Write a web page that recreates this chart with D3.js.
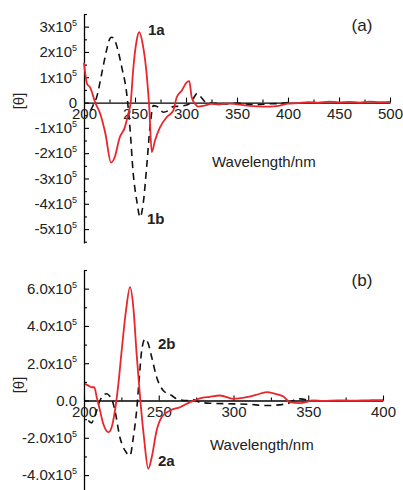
<!DOCTYPE html>
<html>
<head>
<meta charset="utf-8">
<script src="https://cdn.jsdelivr.net/npm/d3@7"></script>
<style>
  body { margin: 0; background: #fff; }
  svg { display: block; font-family: "Liberation Sans", Arial, sans-serif; }
</style>
</head>
<body>
<svg id="chart" width="403" height="490"></svg>
<script>
// panel (a) — values in units of 1e5
const wlA1 = [200,203,206,211,216,221,226.5,230,235,240,243,246,248,251.6,254.2,257.5,261.4,264,266.4,269.6,274.5,281,287.5,290.9,295.8,300.7,303.2,305.6,308.8,312,318,325,332,340,350,360,370,382,392,400,410,420,430,440,450,460,470,480,490,500]
const valA1 = [1.58,0.74,0.6,0,-0.45,-1.23,-2.37,-2.17,-1.38,-0.98,-0.51,0.08,1.19,2.45,2.78,2.32,1.13,-0.2,-1.96,-1.5,-0.98,-0.58,-0.32,0.21,0.47,0.8,0.85,0.21,-0.05,-0.16,-0.12,-0.05,-0.08,-0.03,-0.07,-0.12,-0.15,-0.16,-0.12,-0.04,-0.02,0.02,0,0.04,0.01,0.03,0,0.04,0.02,0.03]
const wlA2 = [206.5,209,212.4,217.3,222,225,227,229,232,237,241.9,245,248.3,251.7,255,258,261.4,264.7,268,272.8,277.7,282.6,287.5,295,302,307,311,315,320,330,340,350,360,370,380,390,400]
const valA2 = [-0.32,-0.1,0.21,1.13,2.05,2.5,2.58,2.55,2.25,1.4,0.34,-0.97,-2.82,-3.87,-4.53,-4.0,-2.56,-0.97,-0.12,-0.18,-0.38,-0.32,-0.16,-0.14,-0.08,0.15,0.36,0.2,0,-0.03,-0.05,-0.02,-0.06,-0.08,-0.05,-0.04,0]
const yTicksA = [-5,-4,-3,-2,-1,0,1,2,3]
const xTicksA = [200,250,300,350,400,450,500]

// panel (b)
const wlB1 = [200.7,202.9,205.1,206.9,208.5,210.7,212.9,216.3,218.5,220.7,223,225.2,228.1,230.8,233,235.2,237.5,240.1,243,245.3,248.6,252,257.5,264.2,270.9,277.6,284,291,299.9,308.8,315,322.2,328,333.3,337.8,344.5,353.4,360,370,380,390,400]
const valB1 = [0.89,0.8,0.71,0.71,0.18,-0.54,-1.25,-1.7,-1.43,-0.54,0.89,2.68,4.83,6.08,5.0,2.5,0.18,-1.97,-3.66,-3.04,-1.61,-0.89,-0.54,-0.36,-0.09,0.12,0.2,0.27,0.09,0.18,0.3,0.45,0.35,0.21,-0.09,-0.14,0,-0.02,0.01,-0.01,0.01,0.02]
const wlB2 = [202.9,205,207,210.7,213,215.2,217,218.5,220.7,224,227.4,230.8,233,235.2,237,238.6,240.8,243,245.3,248.6,253,258.7,262,268.7,273,277.6,285,300,310,322,335.6,340,344.5,350]
const valB2 = [-1.07,-1.2,-0.9,0,0.3,0.36,0.25,0.09,-0.54,-1.97,-2.68,-2.95,-1.97,-0.54,1.25,2.68,3.3,3.04,2.32,1.25,0.54,0.27,0.09,0,0.04,-0.1,-0.15,-0.18,-0.2,-0.27,-0.18,0,0.09,0]
const yTicksB = [-4,-2,0,2,4,6]
const xTicksB = [200,250,300,350,400]

const svg = d3.select("#chart")
const red = "#e8262b"

function drawPanel(opt) {
    const x = d3.scaleLinear().domain(opt.xDomain).range([84, opt.xRight])
    const y = d3.scaleLinear().domain(opt.yDomain).range([opt.yBottom, opt.yTop])
    const g = svg.append("g")

    // minor ticks
    g.append("g")
        .attr("transform", "translate(84,0)")
        .call(d3.axisLeft(y).tickValues(opt.yMinor).tickSize(-3).tickFormat(""))
        .call(a => a.select(".domain").remove())
    g.append("g")
        .attr("transform", `translate(0,${y(0)})`)
        .call(d3.axisBottom(x).tickValues(opt.xMinor).tickSize(-3).tickFormat(""))
        .call(a => a.select(".domain").remove())

    // y axis
    const yAx = g.append("g")
        .attr("transform", "translate(84,0)")
        .call(d3.axisLeft(y).tickValues(opt.yTicks).tickSize(-5).tickSizeOuter(0).tickPadding(7))
    yAx.selectAll("text").each(function (d) {
        const t = d3.select(this).text("")
        if (d === 0) { t.text(opt.zeroLabel); return }
        t.append("tspan").text(opt.fmt(d) + "x10")
        t.append("tspan").attr("font-size", 9).attr("dy", "-0.7em").text("5")
    })

    // x axis on zero line
    g.append("g")
        .attr("transform", `translate(0,${y(0)})`)
        .call(d3.axisBottom(x).tickValues(opt.xTicks).tickSize(-5).tickSizeOuter(0).tickPadding(6))

    g.selectAll(".domain").attr("stroke-width", 1.3)
    g.selectAll(".tick line").attr("stroke-width", 1.1)
    g.selectAll(".tick text").attr("font-size", 15).attr("fill", "#222").attr("font-family", "Liberation Sans, Arial, sans-serif")

    const line = d3.line().x(d => x(d[0])).y(d => y(d[1])).curve(d3.curveMonotoneX)
    g.append("path")
        .datum(d3.zip(opt.wl2, opt.val2))
        .attr("d", line)
        .attr("fill", "none")
        .attr("stroke", "#111")
        .attr("stroke-width", 1.6)
        .attr("stroke-dasharray", "7,5")
    g.append("path")
        .datum(d3.zip(opt.wl1, opt.val1))
        .attr("d", line)
        .attr("fill", "none")
        .attr("stroke", red)
        .attr("stroke-width", 1.8)

    // labels
    g.append("text").attr("x", opt.titleX).attr("y", opt.titleY)
        .attr("font-size", 15).attr("fill", "#222").text("Wavelength/nm")
    g.append("text").attr("transform", `translate(24,${opt.thetaY}) rotate(-90)`)
        .attr("text-anchor", "middle").attr("font-size", 15).attr("fill", "#222").text("[θ]")
    g.append("text").attr("x", 362).attr("y", opt.panelY).attr("text-anchor", "middle")
        .attr("font-size", 17).attr("fill", "#222").text(opt.panel)
    opt.tags.forEach(t => {
        g.append("text").attr("x", t.x).attr("y", t.y).attr("font-size", 15)
            .attr("font-weight", "bold").attr("fill", "#222").text(t.text)
    })
}

drawPanel({
    xDomain: [200, 500], xRight: 390,
    yDomain: [-5.55, 3.5], yBottom: 243, yTop: 14,
    yTicks: yTicksA, xTicks: xTicksA,
    yMinor: d3.range(-5.5, 3.6, 1), xMinor: d3.range(225, 500, 50),
    fmt: d => String(d).replace("-", "-"), zeroLabel: "0",
    wl1: wlA1, val1: valA1, wl2: wlA2, val2: valA2,
    titleX: 212, titleY: 167, thetaY: 101, panel: "(a)", panelY: 31,
    tags: [{text: "1a", x: 148, y: 35}, {text: "1b", x: 147, y: 224}]
})

drawPanel({
    xDomain: [200, 400], xRight: 383,
    yDomain: [-4.8, 7.0], yBottom: 490, yTop: 270,
    yTicks: yTicksB, xTicks: xTicksB,
    yMinor: d3.range(-3, 7.1, 2), xMinor: d3.range(225, 400, 50),
    fmt: d => d.toFixed(1), zeroLabel: "0.0",
    wl1: wlB1, val1: valB1, wl2: wlB2, val2: valB2,
    titleX: 210, titleY: 450, thetaY: 385, panel: "(b)", panelY: 286,
    tags: [{text: "2b", x: 158, y: 349}, {text: "2a", x: 158, y: 466}]
})
</script>
</body>
</html>
